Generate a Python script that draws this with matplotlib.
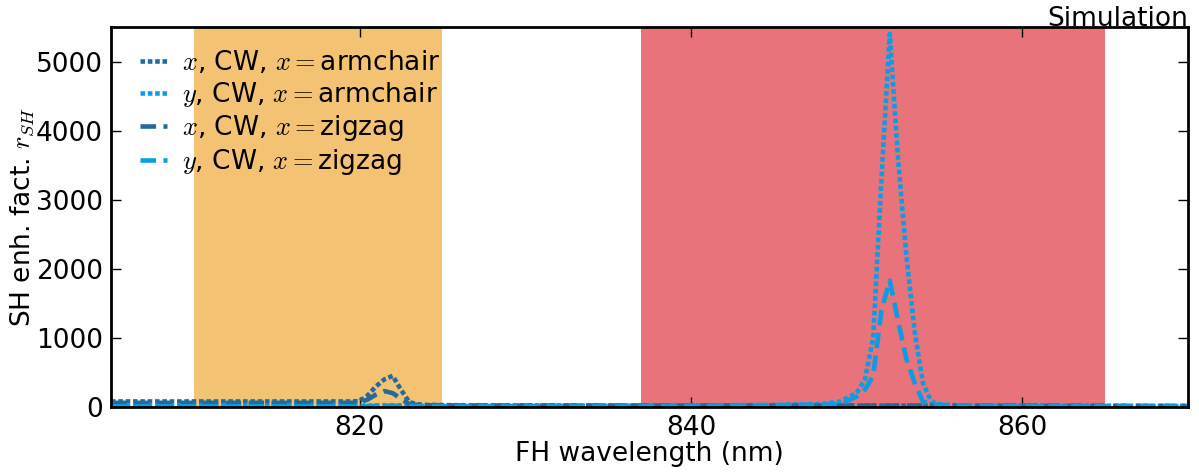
import numpy as np
import matplotlib
matplotlib.use('Agg')
from matplotlib import pyplot as plt

plt.rcParams['mathtext.fontset'] = 'cm'
plt.rcParams['font.family'] = 'DejaVu Sans'

# wavelength grid (nm) and enhancement factors
wl = [805, 806, 808, 810, 812, 814, 816, 818, 819, 819.5, 820, 820.5, 821, 821.5, 822,
      822.5, 823, 823.5, 824, 826, 830, 835, 840, 845, 848, 849, 850, 850.5, 851,
      851.5, 852, 852.5, 853, 853.5, 854, 854.5, 855, 856, 858, 860, 865, 870]

x_arm = [80, 80, 80, 80, 80, 80, 80, 80, 80, 80, 85, 170, 300, 400, 450,
         250, 70, 40, 30, 25, 22, 20, 20, 20, 20, 20, 20, 20, 20,
         20, 20, 20, 20, 20, 20, 20, 20, 18, 18, 18, 16, 15]
y_arm = [15, 15, 15, 15, 15, 15, 15, 15, 15, 15, 15, 18, 22, 25, 25,
         22, 18, 15, 15, 15, 15, 18, 22, 30, 45, 80, 200, 400, 1000,
         3300, 5400, 3600, 2200, 1100, 350, 80, 40, 25, 18, 15, 12, 10]
x_zz = [60, 60, 60, 60, 60, 60, 60, 60, 60, 60, 60, 110, 180, 230, 200,
        120, 40, 30, 25, 22, 20, 20, 20, 20, 20, 20, 20, 20, 20,
        20, 20, 20, 20, 20, 20, 20, 20, 18, 18, 18, 16, 15]
y_zz = [10, 10, 10, 10, 10, 10, 10, 10, 10, 10, 10, 12, 15, 18, 18,
        15, 12, 10, 10, 10, 10, 12, 15, 25, 35, 40, 150, 250, 450,
        1400, 1830, 1250, 700, 350, 80, 40, 30, 20, 15, 12, 10, 8]

labels = [r'$x$, CW, $x=$armchair', r'$y$, CW, $x=$armchair',
          r'$x$, CW, $x=$zigzag', r'$y$, CW, $x=$zigzag']

c_dark = '#246a9c'
c_light = '#0b9de3'
dot = (1, 0.6)
dash = (3.4, 1.6)
fs = 19

fig = plt.figure(figsize=(11.99, 4.74), dpi=100)
ax = fig.add_axes([0.0926, 0.1414, 0.8982, 0.8016])

ax.axvspan(810, 825, color='#f3c373', lw=0, zorder=0)
ax.axvspan(837, 865, color='#e8737b', lw=0, zorder=0)

ax.plot(wl, x_arm, color=c_dark, lw=3.3, dashes=dot, label=labels[0])
ax.plot(wl, y_arm, color=c_light, lw=3.3, dashes=dot, label=labels[1])
ax.plot(wl, x_zz, color=c_dark, lw=3.3, dashes=dash, label=labels[2])
ax.plot(wl, y_zz, color=c_light, lw=3.3, dashes=dash, label=labels[3])

ax.set_xlim(805, 870)
ax.set_ylim(0, 5500)
ax.set_xticks([820, 840, 860])
ax.set_yticks([0, 1000, 2000, 3000, 4000, 5000])
ax.tick_params(direction='in', length=7, width=1, top=True, right=True, labelsize=fs, pad=6)
for s in ax.spines.values():
    s.set_linewidth(2)

ax.set_xlabel('FH wavelength (nm)', fontsize=fs, labelpad=0)
ax.set_ylabel(r'SH enh. fact. $r_{SH}$', fontsize=fs, labelpad=0)
ax.set_title('Simulation', loc='right', fontsize=fs, pad=1)

ax.legend(loc='upper left', frameon=False, fontsize=fs, handlelength=1.0,
          handletextpad=0.6, labelspacing=0.15, borderaxespad=0.3,
          bbox_to_anchor=(0.01, 0.99))

fig.savefig('out.png', dpi=100)
